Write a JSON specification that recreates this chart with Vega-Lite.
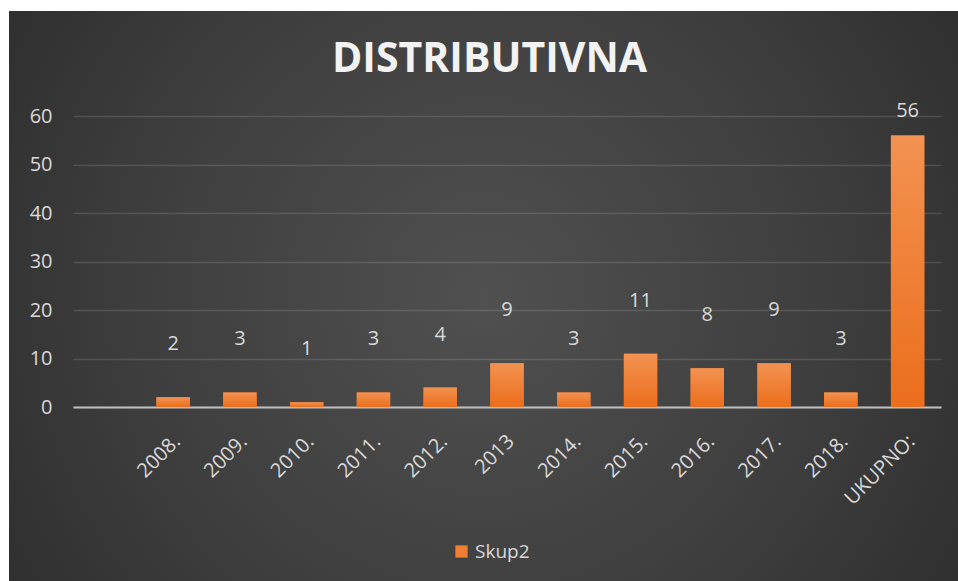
{
  "$schema": "https://vega.github.io/schema/vega-lite/v6.json",
  "width": 949,
  "height": 570,
  "autosize": {"type": "none"},
  "padding": {"left": 9, "top": 11, "right": 0, "bottom": 0},
  "background": "#ffffff",
  "config": {
    "font": "Open Sans",
    "view": {
      "stroke": null,
      "fill": {
        "gradient": "radial",
        "x1": 0.5, "y1": 0.5, "r1": 0,
        "x2": 0.5, "y2": 0.5, "r2": 0.72,
        "stops": [
          {"offset": 0, "color": "#505050"},
          {"offset": 0.5, "color": "#3e3e3e"},
          {"offset": 1, "color": "#272727"}
        ]
      }
    }
  },
  "title": {
    "text": "DISTRIBUTIVNA",
    "font": "Open Sans",
    "fontSize": 41,
    "fontWeight": "bold",
    "color": "#f2f2f2",
    "anchor": "middle",
    "baseline": "alphabetic",
    "offset": -102,
    "dx": 6
  },
  "data": {
    "values": [
      {"godina": "2008.", "broj": 2, "serija": "Skup2"},
      {"godina": "2009.", "broj": 3, "serija": "Skup2"},
      {"godina": "2010.", "broj": 1, "serija": "Skup2"},
      {"godina": "2011.", "broj": 3, "serija": "Skup2"},
      {"godina": "2012.", "broj": 4, "serija": "Skup2"},
      {"godina": "2013", "broj": 9, "serija": "Skup2"},
      {"godina": "2014.", "broj": 3, "serija": "Skup2"},
      {"godina": "2015.", "broj": 11, "serija": "Skup2"},
      {"godina": "2016.", "broj": 8, "serija": "Skup2"},
      {"godina": "2017.", "broj": 9, "serija": "Skup2"},
      {"godina": "2018.", "broj": 3, "serija": "Skup2"},
      {"godina": "UKUPNO:", "broj": 56, "serija": "Skup2"}
    ]
  },
  "encoding": {
    "x": {
      "field": "godina",
      "type": "nominal",
      "sort": null,
      "scale": {
        "domain": [" ", "2008.", "2009.", "2010.", "2011.", "2012.", "2013", "2014.", "2015.", "2016.", "2017.", "2018.", "UKUPNO:"],
        "range": [64, 932],
        "paddingInner": 0.5,
        "paddingOuter": 0.25
      },
      "axis": {
        "title": null,
        "offset": -174,
        "labelAngle": -45,
        "labelAlign": "right",
        "labelBaseline": "middle",
        "labelPadding": 31,
        "labelOffset": 4,
        "labelFontSize": 20,
        "labelColor": "#d9d9d9",
        "labelFont": "Open Sans",
        "ticks": false,
        "grid": false,
        "domainColor": "#bfbfbf",
        "domainWidth": 2
      }
    },
    "y": {
      "field": "broj",
      "type": "quantitative",
      "scale": {"domain": [0, 60], "range": [396, 105], "nice": false},
      "axis": {
        "title": null,
        "offset": -64,
        "values": [0, 10, 20, 30, 40, 50, 60],
        "labelFontSize": 20,
        "labelColor": "#d9d9d9",
        "labelFont": "Open Sans",
        "labelPadding": 21,
        "ticks": false,
        "domain": false,
        "grid": true,
        "gridColor": "#ffffff",
        "gridOpacity": 0.13,
        "gridWidth": 1.5
      }
    }
  },
  "layer": [
    {
      "mark": {"type": "bar"},
      "encoding": {
        "color": {
          "field": "serija",
          "type": "nominal",
          "scale": {"range": ["#ef7f33"]},
          "legend": {
            "title": null,
            "orient": "none",
            "legendX": 443,
            "legendY": 531,
            "padding": 0,
            "symbolType": "square",
            "symbolSize": 150,
            "symbolStrokeWidth": 0,
            "labelFontSize": 19,
            "labelColor": "#d9d9d9",
            "labelFont": "Open Sans",
            "labelOffset": 4
          }
        }
      }
    },
    {
      "mark": {
        "type": "bar",
        "color": {
          "gradient": "linear",
          "x1": 0, "y1": 0, "x2": 0, "y2": 1,
          "stops": [
            {"offset": 0, "color": "#f39251"},
            {"offset": 1, "color": "#eb6e1c"}
          ]
        }
      },
      "encoding": {}
    },
    {
      "transform": [{"filter": "datum.broj < 50"}],
      "mark": {"type": "text", "baseline": "alphabetic", "dy": -47, "fontSize": 20, "color": "#d9d9d9", "font": "Open Sans"},
      "encoding": {"text": {"field": "broj", "type": "quantitative"}}
    },
    {
      "transform": [{"filter": "datum.broj >= 50"}],
      "mark": {"type": "text", "baseline": "alphabetic", "dy": -18, "fontSize": 20, "color": "#d9d9d9", "font": "Open Sans"},
      "encoding": {"text": {"field": "broj", "type": "quantitative"}}
    }
  ]
}
